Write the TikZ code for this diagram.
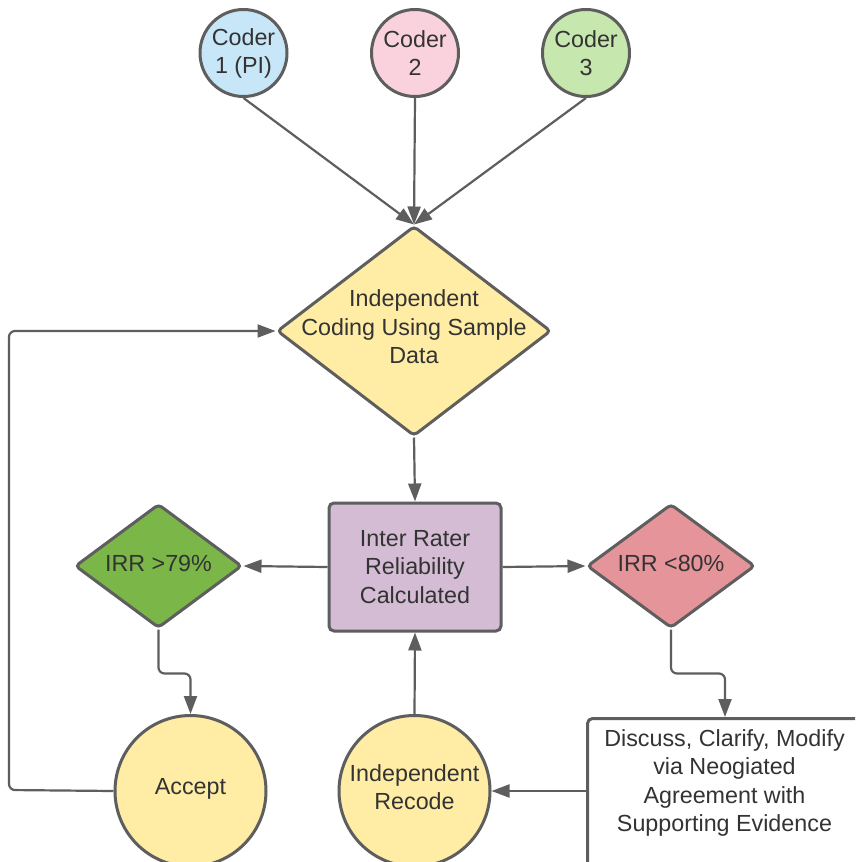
\documentclass[tikz,border=0pt]{standalone}
\usepackage{fontspec}
\setmainfont{Liberation Sans}
\usetikzlibrary{shapes.geometric,arrows.meta}
\definecolor{lineg}{HTML}{5E5E5E}
\definecolor{txtc}{HTML}{333333}
\definecolor{cblue}{HTML}{C7E6F7}
\definecolor{cpink}{HTML}{F9D2DE}
\definecolor{clgreen}{HTML}{C6E7AE}
\definecolor{cyellow}{HTML}{FFEDA6}
\definecolor{cgreen}{HTML}{7AB648}
\definecolor{cred}{HTML}{E5949A}
\definecolor{cpurple}{HTML}{D3BCD4}
\begin{document}
\begin{tikzpicture}[x=1pt,y=-1pt,
  every node/.style={text=txtc,font=\fontsize{23.3}{28.5}\selectfont,align=center},
  shapeline/.style={draw=lineg,line width=3pt},
  coder/.style={shapeline,circle,minimum size=87pt,inner sep=0pt},
  bigcircle/.style={shapeline,circle,fill=cyellow,minimum size=151pt,inner sep=0pt},
  dia/.style={shapeline,diamond,inner sep=0pt,rounded corners=4pt},
  arr/.style={draw=lineg,line width=2.2pt,-{Triangle[length=18pt,width=13pt]}},
  lnk/.style={draw=lineg,line width=2.2pt,rounded corners=6pt}]
\clip (0,0) rectangle (855,862);
\fill[white] (0,0) rectangle (855,862);
% top coders
\node[coder,fill=cblue] (c1) at (243.5,53) {Coder\\[-0.5pt]1 (PI)};
\node[coder,fill=cpink] (c2) at (415,53) {Coder\\[-0.5pt]2};
\node[coder,fill=clgreen] (c3) at (586,53) {Coder\\[-0.5pt]3};
% main diamond
\node[dia,fill=cyellow,minimum width=274pt,minimum height=210pt] (indep) at (414,331) {};
\node at (414,327) {Independent\\Coding Using Sample\\Data};
% IRR box
\node[shapeline,rectangle,rounded corners=5pt,fill=cpurple,minimum width=172pt,minimum height=128pt,inner sep=0pt] (irr) at (415,567) {Inter Rater\\Reliability\\Calculated};
% side diamonds
\node[dia,fill=cgreen,minimum width=167pt,minimum height=124pt] (gdia) at (158.5,566) {};
\node at (158.5,563) {IRR >79\%};
\node[dia,fill=cred,minimum width=168pt,minimum height=124pt] (rdia) at (671,566) {};
\node at (671,563) {IRR <80\%};
% bottom circles
\node[bigcircle] (accept) at (190.5,791) {};
\node at (190.5,789) {Accept};
\node[bigcircle] (recode) at (414.5,791) {};
\node at (414.5,787) {Independent\\Recode};
% discuss box
\node[shapeline,rectangle,rounded corners=5pt,fill=white,anchor=north west,minimum width=277pt,minimum height=200pt,inner sep=0pt] (disc) at (586,717) {};
\node at (724.5,783) {Discuss, Clarify, Modify\\via Neogiated\\Agreement with\\Supporting Evidence};
% connectors
\draw[arr] (c1.south) -- (indep.north);
\draw[arr] (c2.south) -- (indep.north);
\draw[arr] (c3.south) -- (indep.north);
\draw[arr] (indep.south) -- (irr.north);
\draw[arr] (irr.west) -- (gdia.east);
\draw[arr] (irr.east) -- (rdia.west);
\draw[arr,rounded corners=6pt] (gdia.south) -- ++(0,44) -| (accept.north);
\draw[arr,rounded corners=6pt] (rdia.south) -- ++(0,44) -| (disc.north -| 725,0);
\draw[arr] (recode.north) -- (irr.south);
\draw[arr] (disc.west |- recode.east) -- (recode.east);
\coordinate (loopb) at (9,790);
\coordinate (loopt) at (9,331);
\draw[arr,rounded corners=6pt] (accept.west) -- (loopb) -- (loopt) -- (indep.west);
\end{tikzpicture}
\end{document}
